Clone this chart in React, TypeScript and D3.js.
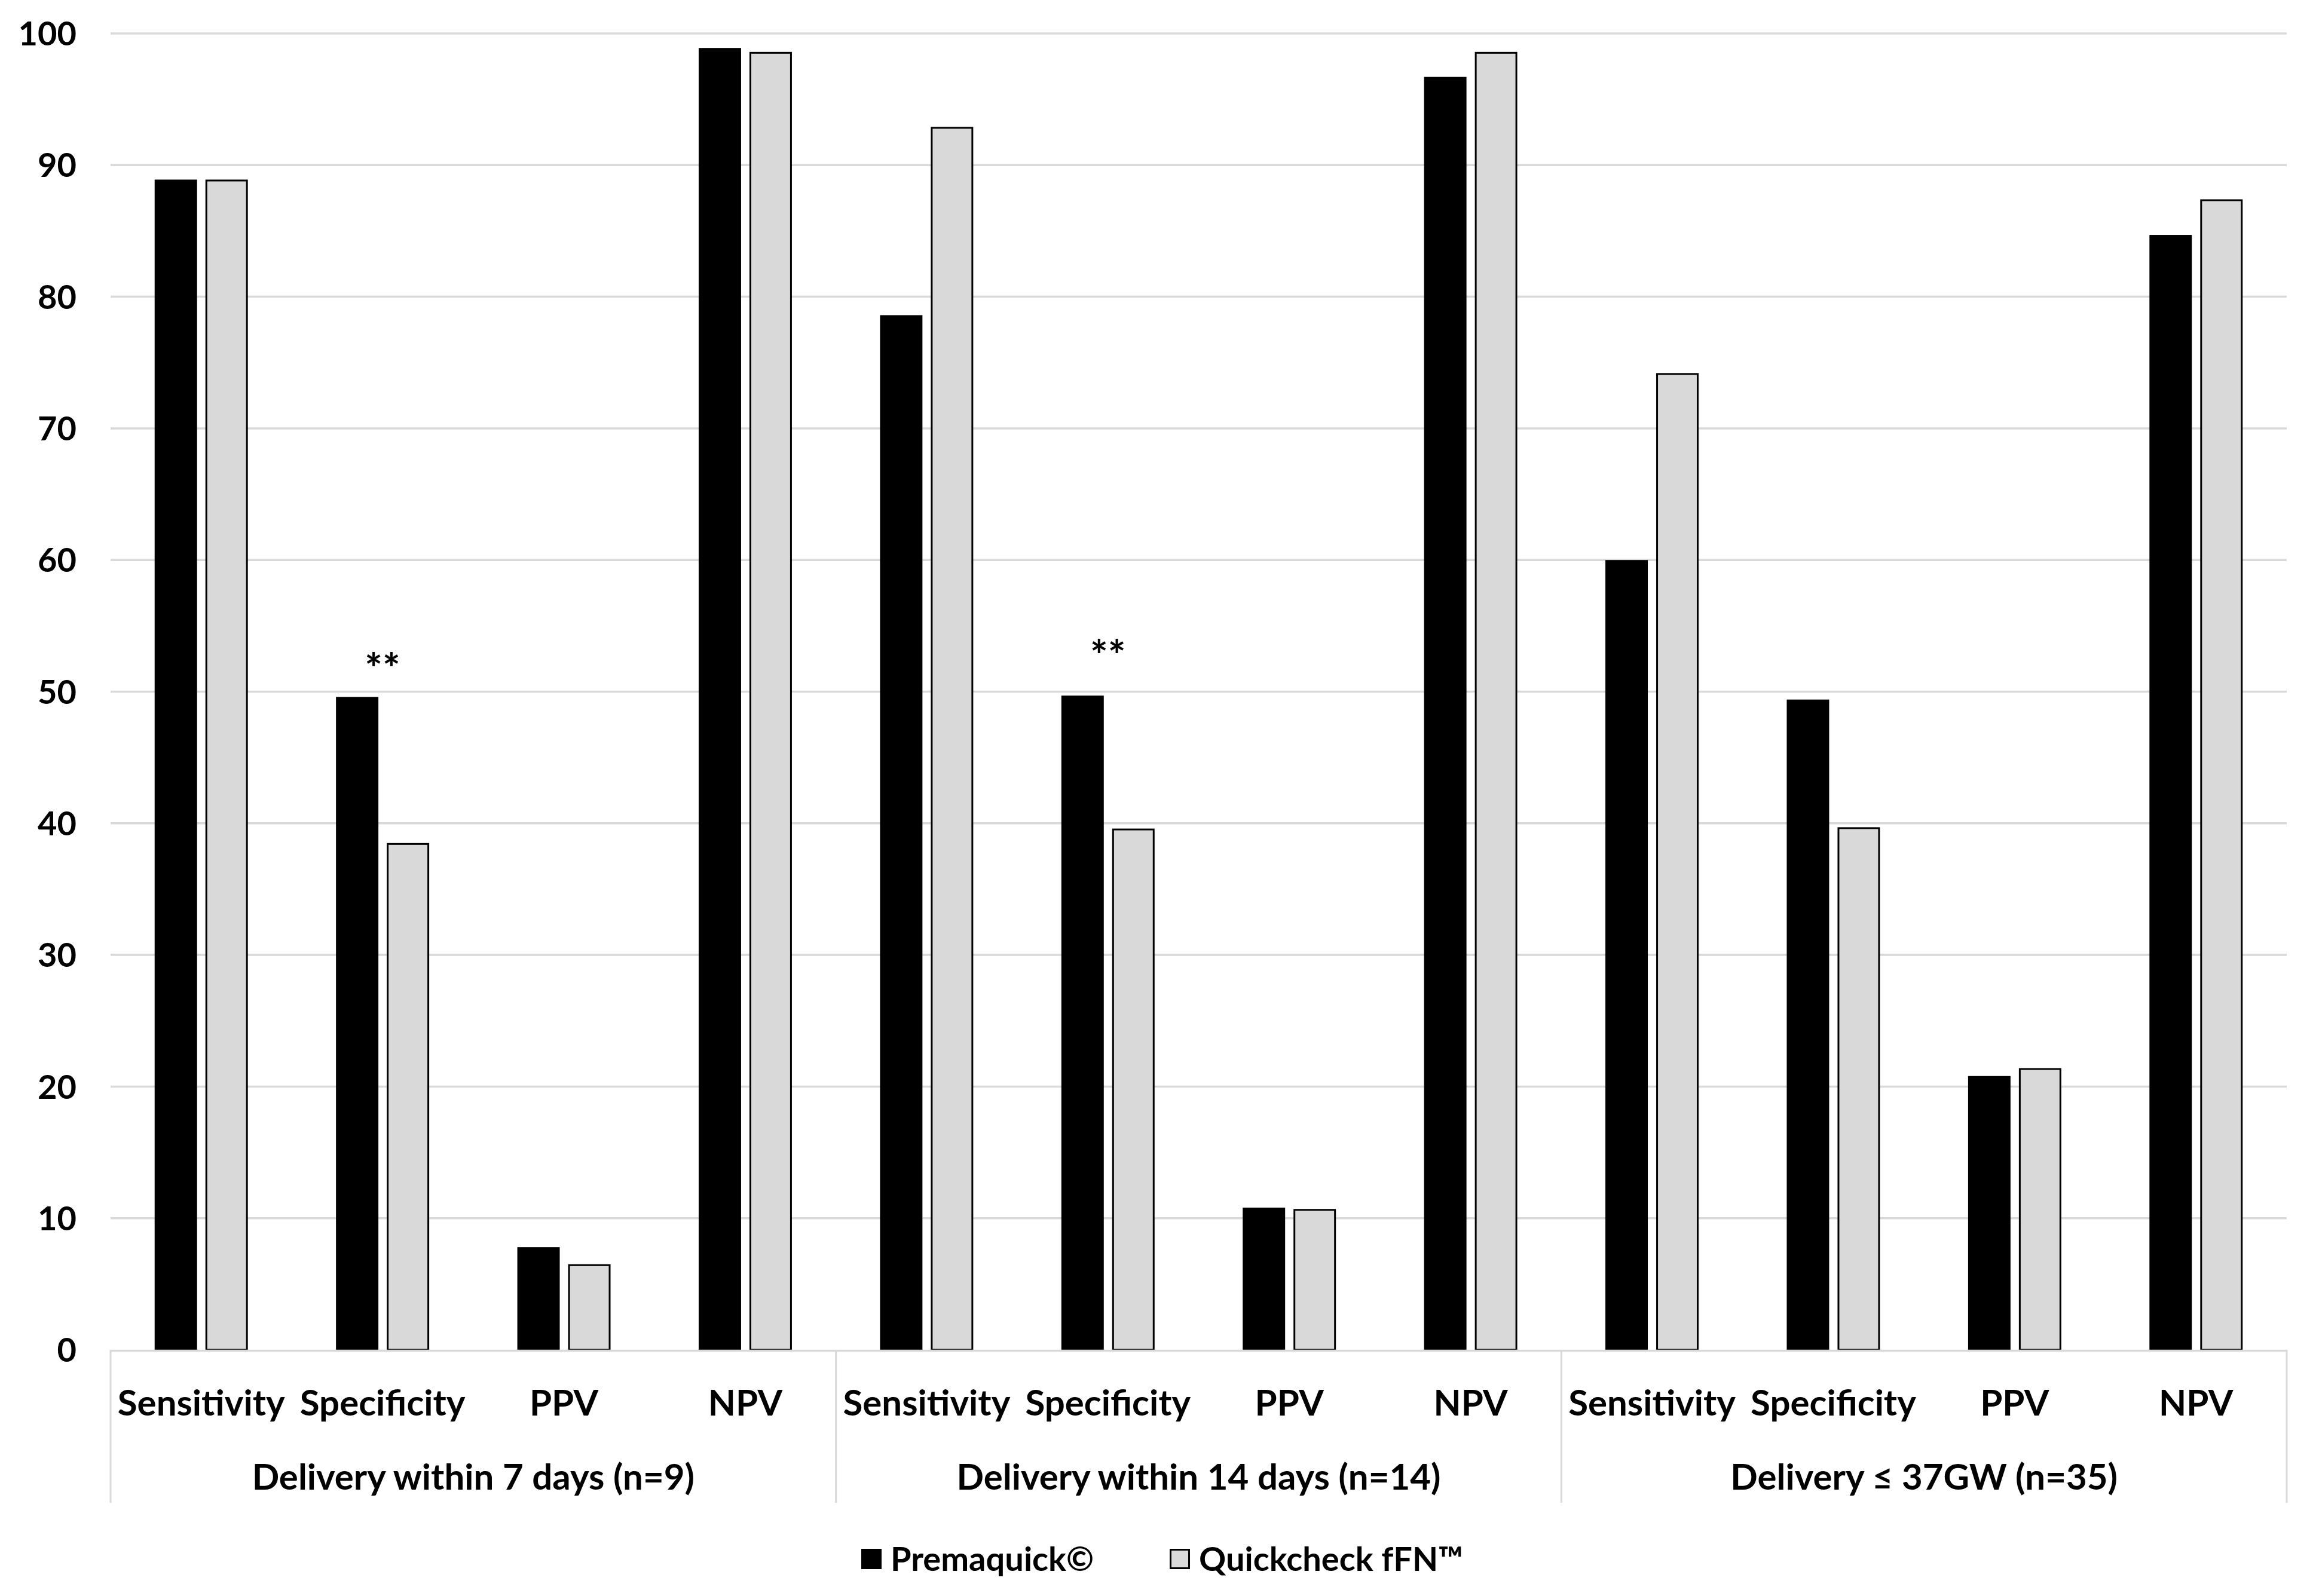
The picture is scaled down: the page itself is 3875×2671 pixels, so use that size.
import * as d3 from "d3";
import { useEffect, useRef } from "react";

const groups = ["Delivery within 7 days (n=9)", "Delivery within 14 days (n=14)", "Delivery \u2264 37GW (n=35)"];
const measures = ["Sensitivity", "Specificity", "PPV", "NPV"];
const seriesNames = ["Premaquick\u00a9", "Quickcheck fFN\u2122"];
const premaquick = [88.9, 49.6, 7.8, 98.9, 78.6, 49.7, 10.8, 96.7, 60.0, 49.4, 20.8, 84.7];
const quickcheck = [88.9, 38.5, 6.5, 98.6, 92.9, 39.6, 10.7, 98.6, 74.2, 39.7, 21.4, 87.4];
const yTicks = [0, 10, 20, 30, 40, 50, 60, 70, 80, 90, 100];
// "**" significance marks: category index and the level they sit at
const starCategories = [1, 5];
const starLevels = [52.3, 53.3];

const W = 3875;
const H = 2671;
const FONT = "Lato, 'Open Sans', sans-serif";
const GRID = "#d9d9d9";
const LIGHT = "#d9d9d9";

export default function App() {
  const ref = useRef<SVGSVGElement | null>(null);

  useEffect(() => {
    if (!ref.current) return;
    const margin = { top: 56, right: W - 3826, bottom: H - 2259, left: 185 };
    const innerW = W - margin.left - margin.right;
    const innerH = H - margin.top - margin.bottom;

    const keys = groups.flatMap((g, gi) => measures.map((m, mi) => `${gi}-${mi}`));
    const rows = keys.map((k, i) => ({ key: k, values: [premaquick[i], quickcheck[i]] }));

    const x0 = d3.scaleBand<string>().domain(keys).range([0, innerW]).paddingInner(0.486).paddingOuter(0.243);
    const x1 = d3.scaleBand<number>().domain([0, 1]).range([0, x0.bandwidth()]).paddingInner(0.165);
    const y = d3.scaleLinear().domain([0, 100]).range([innerH, 0]);
    const step = innerW / keys.length;

    const svg = d3.select(ref.current);
    svg.selectAll("*").remove();
    svg.append("rect").attr("width", W).attr("height", H).attr("fill", "#ffffff");

    const g = svg.append("g").attr("transform", `translate(${margin.left},${margin.top})`);

    // gridlines
    g.append("g")
      .selectAll("line")
      .data(yTicks.filter((t) => t > 0))
      .join("line")
      .attr("x1", 0)
      .attr("x2", innerW)
      .attr("y1", (d) => y(d))
      .attr("y2", (d) => y(d))
      .attr("stroke", GRID)
      .attr("stroke-width", 3.5);

    // y tick labels
    g.append("g")
      .selectAll("text")
      .data(yTicks)
      .join("text")
      .attr("x", -57)
      .attr("y", (d) => y(d))
      .attr("dy", "0.36em")
      .attr("text-anchor", "end")
      .style("font-family", FONT)
      .style("font-weight", 700)
      .style("font-size", "56px")
      .style("fill", "#000")
      .text((d) => String(d));

    // bars
    const fills = ["#000000", "#d9d9d9"];
    const cat = g
      .append("g")
      .selectAll("g")
      .data(rows)
      .join("g")
      .attr("transform", (d) => `translate(${x0(d.key)},0)`);
    cat
      .selectAll("rect")
      .data((d) => d.values.map((v, si) => ({ v, si })))
      .join("rect")
      .attr("x", (d) => x1(d.si)! + (d.si === 1 ? 1.5 : 0))
      .attr("y", (d) => y(d.v) + (d.si === 1 ? 1.5 : 0))
      .attr("width", (d) => x1.bandwidth() - (d.si === 1 ? 3 : 0))
      .attr("height", (d) => innerH - y(d.v) - (d.si === 1 ? 1.5 : 0))
      .attr("fill", (d) => fills[d.si])
      .attr("stroke", (d) => (d.si === 1 ? "#000" : "none"))
      .attr("stroke-width", 3);

    // x axis line
    g.append("line")
      .attr("x1", 0)
      .attr("x2", innerW)
      .attr("y1", innerH + 1.5)
      .attr("y2", innerH + 1.5)
      .attr("stroke", LIGHT)
      .attr("stroke-width", 3.5);

    // group separators
    const sepBottom = innerH + 256;
    g.append("g")
      .selectAll("line")
      .data(d3.range(groups.length + 1))
      .join("line")
      .attr("x1", (i) => i * step * measures.length)
      .attr("x2", (i) => i * step * measures.length)
      .attr("y1", innerH)
      .attr("y2", sepBottom)
      .attr("stroke", LIGHT)
      .attr("stroke-width", 3);

    // category labels
    g.append("g")
      .selectAll("text")
      .data(rows)
      .join("text")
      .attr("x", (d) => x0(d.key)! + x0.bandwidth() / 2)
      .attr("y", innerH + 110)
      .attr("text-anchor", "middle")
      .style("font-family", FONT)
      .style("font-weight", 700)
      .style("font-size", "60px")
      .style("fill", "#000")
      .text((d, i) => measures[i % measures.length]);

    // group labels
    g.append("g")
      .selectAll("text")
      .data(groups)
      .join("text")
      .attr("x", (d, i) => (i + 0.5) * step * measures.length)
      .attr("y", innerH + 234)
      .attr("text-anchor", "middle")
      .style("font-family", FONT)
      .style("font-weight", 700)
      .style("font-size", "60px")
      .style("fill", "#000")
      .text((d) => d);

    // significance marks
    g.append("g")
      .selectAll("text")
      .data(starCategories)
      .join("text")
      .attr("x", (c) => x0(keys[c])! + x0.bandwidth() / 2)
      .attr("y", (c, i) => y(starLevels[i]) + 38)
      .attr("text-anchor", "middle")
      .style("font-family", FONT)
      .style("font-weight", 700)
      .style("font-size", "70px")
      .style("fill", "#000")
      .text("**");

    // legend
    const legY = 2609;
    const leg = svg.append("g");
    const items = [
      { label: seriesNames[0], fill: fills[0], stroke: "none", x: 1441 },
      { label: seriesNames[1], fill: fills[1], stroke: "#000", x: 1957 },
    ];
    items.forEach((it) => {
      leg
        .append("rect")
        .attr("x", it.x + (it.stroke === "none" ? 0 : 1.5))
        .attr("y", legY - 17 + (it.stroke === "none" ? 0 : 1.5))
        .attr("width", it.stroke === "none" ? 34 : 31)
        .attr("height", it.stroke === "none" ? 34 : 31)
        .attr("fill", it.fill)
        .attr("stroke", it.stroke)
        .attr("stroke-width", 3);
      leg
        .append("text")
        .attr("x", it.x + 49)
        .attr("y", legY)
        .attr("dy", "0.36em")
        .style("font-family", FONT)
        .style("font-weight", 700)
        .style("font-size", "56px")
        .style("fill", "#000")
        .text(it.label);
    });
  }, []);

  return (
    <div style={{ position: "absolute", left: 0, top: 0 }}>
      <svg ref={ref} width={W} height={H} style={{ display: "block" }} role="img" aria-label="Diagnostic accuracy of Premaquick and Quickcheck fFN" />
    </div>
  );
}
